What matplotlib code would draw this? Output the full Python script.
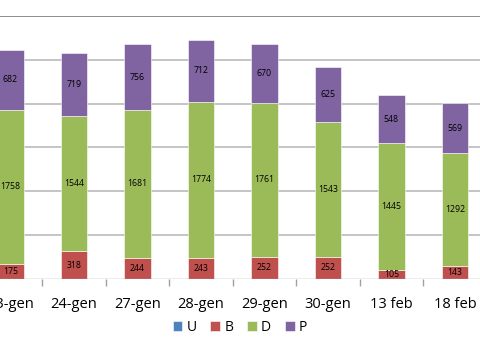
import matplotlib.pyplot as plt
import numpy as np

# data
dates = ['23-gen', '24-gen', '27-gen', '28-gen', '29-gen', '30-gen', '13 feb', '18 feb']
U = [0, 0, 0, 0, 0, 0, 0, 0]
B = [175, 318, 244, 243, 252, 252, 105, 143]
D = [1758, 1544, 1681, 1774, 1761, 1543, 1445, 1292]
P = [682, 719, 756, 712, 670, 625, 548, 569]

series = [('U', U, '#4F81BD'), ('B', B, '#C0504D'),
          ('D', D, '#9BBB59'), ('P', P, '#8064A2')]

plt.rcParams['font.family'] = ['Open Sans', 'DejaVu Sans']

fig = plt.figure(figsize=(4.8, 3.53), dpi=100)
# the reference is a crop of a larger chart, so the axes run past the edges
ax = fig.add_axes([-21.25 / 480, 74 / 353, 508 / 480, 263 / 353])

x = np.arange(len(dates))
bottom = np.zeros(len(dates))
for name, vals, col in series:
    vals = np.array(vals, dtype=float)
    ax.bar(x, vals, width=0.41, bottom=bottom, color=col,
           edgecolor='white', linewidth=0.4, label=name, zorder=3)
    if name != 'U':
        for xi, b, v in zip(x, bottom, vals):
            ax.text(xi, b + v / 2, f'{int(v)}', ha='center', va='center',
                    fontsize=6.3, color='black', zorder=4)
    bottom += vals

ax.set_xlim(-0.5, 7.5)
ax.set_ylim(0, 3000)
for y in range(500, 3000, 500):
    ax.axhline(y, color='#BFBFBF', linewidth=1.3, zorder=1)
ax.axhline(3000, color='#868686', linewidth=1.3, zorder=1)

for s in ax.spines.values():
    s.set_visible(False)
ax.axhline(0, color='#A0A0A0', linewidth=1.0, zorder=5)

ax.set_yticks([])
ax.set_xticks(x)
ax.set_xticklabels(dates, fontsize=10.5)
ax.tick_params(axis='x', which='major', length=0, pad=13)
ax.set_xticks(np.arange(-0.5, 8, 1), minor=True)
ax.tick_params(axis='x', which='minor', length=5, color='#A0A0A0', width=1)

ax.legend(loc='center', bbox_to_anchor=(0.514, -0.183),
          bbox_transform=ax.transAxes, ncol=4, frameon=False, fontsize=10,
          handlelength=0.7, handleheight=0.7, handletextpad=0.3, columnspacing=1.0)

fig.savefig('out.png', dpi=100)
